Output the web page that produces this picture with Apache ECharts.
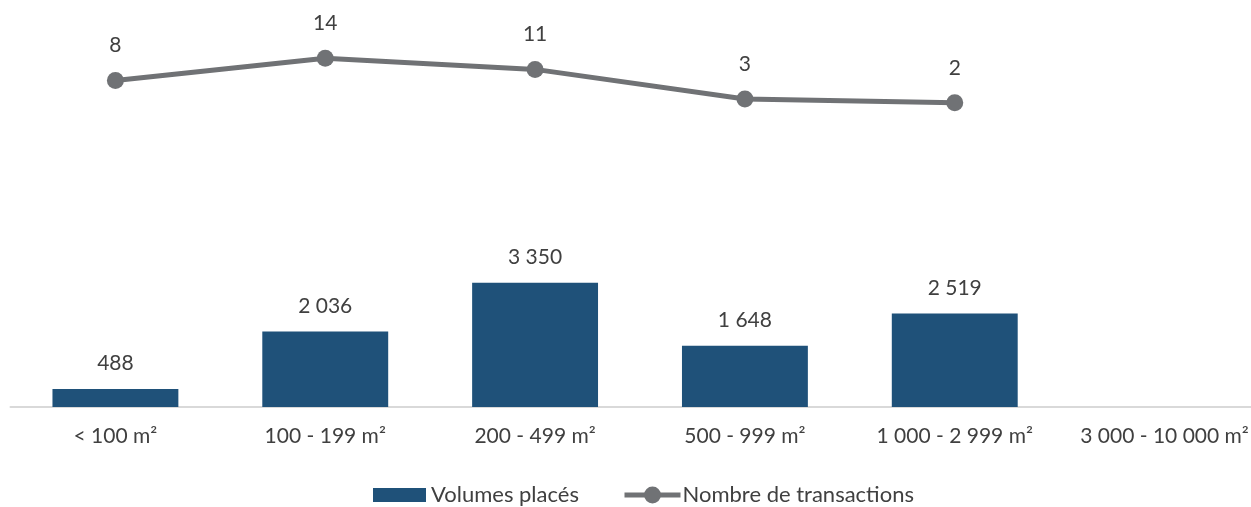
<!DOCTYPE html>
<html>
<head>
<meta charset="utf-8">
<script src="https://cdn.jsdelivr.net/npm/echarts@6/dist/echarts.min.js"></script>
<style>
  html, body { margin: 0; padding: 0; background: #ffffff; }
  #chart { width: 1251px; height: 507px; }
</style>
</head>
<body>
<div id="chart"></div>
<script>
// Surface ranges
const categories = ['< 100 m²', '100 - 199 m²', '200 - 499 m²', '500 - 999 m²', '1 000 - 2 999 m²', '3 000 - 10 000 m²'];
// Volumes placés (m²)
const volumes = [488, 2036, 3350, 1648, 2519, null];
// Nombre de transactions
const transactions = [8, 14, 11, 3, 2, null];

const FONT = 'Lato, "Open Sans", sans-serif';
const TEXT = '#404040';
const FS = 21;
const LINE_COLOR = '#707275';
const BAR_COLOR = '#1f5179';

// French thousands separator (space)
const fmt = v => String(v).replace(/\B(?=(\d{3})+(?!\d))/g, ' ');

const legendText = { fontFamily: FONT, fontSize: 22, color: TEXT };

const chart = echarts.init(document.getElementById('chart'), null, { renderer: 'canvas' });
chart.setOption({
  animation: false,
  backgroundColor: '#ffffff',
  textStyle: { fontFamily: FONT },
  grid: { left: 10.5, width: 1259, top: 36, bottom: 100, containLabel: false, outerBoundsMode: 'none' },
  // two legends so the bar swatch and the line-with-marker icon can have their own heights
  legend: [
    {
      top: 484,
      left: 373,
      padding: 0,
      itemWidth: 53,
      itemHeight: 14,
      textStyle: Object.assign({ padding: [0, 0, 0, 0] }, legendText),
      data: [{ name: 'Volumes placés', icon: 'rect' }]
    },
    {
      top: 484,
      left: 622,
      padding: 0,
      itemWidth: 56,
      itemHeight: 21,
      textStyle: Object.assign({ padding: [0, 0, 0, -3] }, legendText),
      data: [{ name: 'Nombre de transactions', lineStyle: { width: 5, color: LINE_COLOR } }]
    }
  ],
  xAxis: {
    type: 'category',
    data: categories,
    axisLine: { lineStyle: { color: '#d9d9d9', width: 2 } },
    axisTick: { show: false },
    axisLabel: { fontFamily: FONT, fontSize: FS, color: TEXT, margin: 19, interval: 0 }
  },
  yAxis: [
    { type: 'value', min: 0, max: 10000, show: false, splitLine: { show: false } },
    { type: 'value', min: -80, max: 20, show: false, splitLine: { show: false } }
  ],
  series: [
    {
      name: 'Volumes placés',
      type: 'bar',
      data: volumes,
      barWidth: '60%',
      itemStyle: { color: BAR_COLOR },
      label: {
        show: true,
        position: 'top',
        distance: 15,
        fontFamily: FONT,
        fontSize: FS,
        color: TEXT,
        formatter: p => fmt(p.value)
      }
    },
    {
      name: 'Nombre de transactions',
      type: 'line',
      yAxisIndex: 1,
      data: transactions,
      symbol: 'circle',
      symbolSize: 17,
      lineStyle: { color: LINE_COLOR, width: 5 },
      itemStyle: { color: LINE_COLOR },
      label: {
        show: true,
        position: 'top',
        distance: 16,
        fontFamily: FONT,
        fontSize: FS,
        color: TEXT
      }
    }
  ]
});
</script>
</body>
</html>
